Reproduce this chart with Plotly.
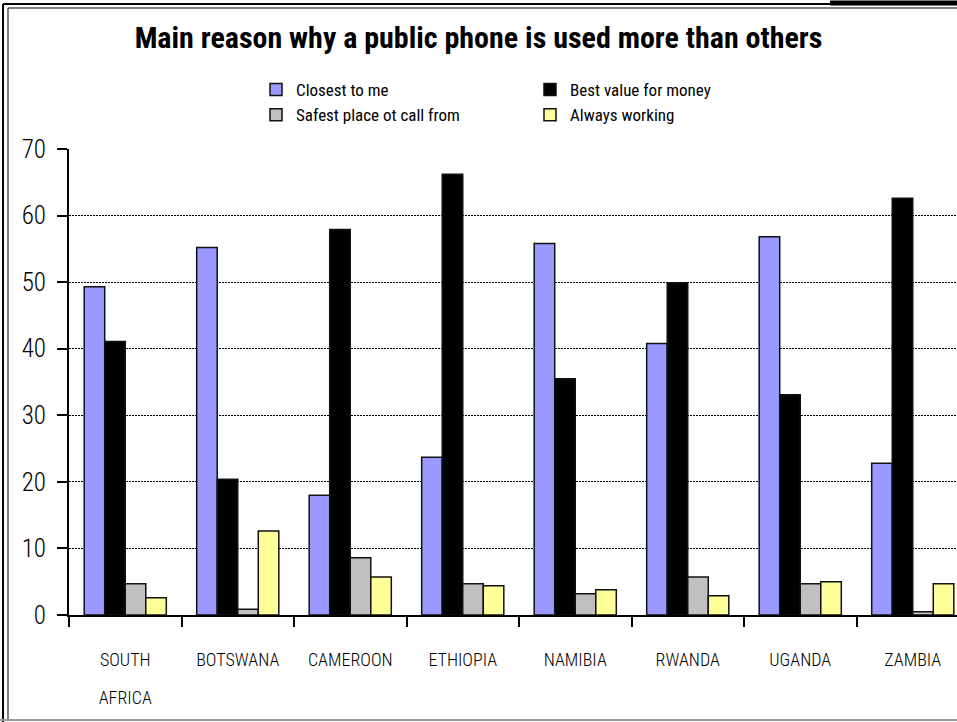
import plotly.graph_objects as go

categories = ["SOUTH AFRICA", "BOTSWANA", "CAMEROON", "ETHIOPIA", "NAMIBIA", "RWANDA", "UGANDA", "ZAMBIA"]

closest_to_me = [49.3, 55.2, 18.0, 23.7, 55.8, 40.8, 56.8, 22.8]
best_value = [41.1, 20.4, 57.9, 66.2, 35.5, 49.9, 33.1, 62.6]
safest_place = [4.7, 0.85, 8.6, 4.7, 3.2, 5.7, 4.7, 0.5]
always_working = [2.6, 12.6, 5.7, 4.4, 3.8, 2.9, 5.0, 4.7]

series_names = ["Closest to me", "Best value for money", "Safest place ot call from", "Always working"]
series_values = [closest_to_me, best_value, safest_place, always_working]
series_colors = ["#9999FF", "#000000", "#C0C0C0", "#FFFF99"]
series_legend = ["legend", "legend2", "legend", "legend2"]

# category labels wrap onto two lines (first word, then the rest)
first_line = [c.split(" ")[0] for c in categories]
second_line = [" ".join(c.split(" ")[1:]) for c in categories]

FONT = "Roboto Condensed, Liberation Sans Narrow, sans-serif"

W, H = 957, 722
L, R, T, B = 69, 0, 149, 107
PW = W - L - R
PH = H - T - B
XRANGE = [-0.5, -0.5 + PW / 112.5]

fig = go.Figure()
for name, vals, col, lg in zip(series_names, series_values, series_colors, series_legend):
    fig.add_trace(go.Bar(
        x=categories, y=vals, name=name, legend=lg,
        marker=dict(color=col, line=dict(color="#111111", width=1.5)),
    ))
# invisible carrier so the second label row (overlay axis) is drawn
fig.add_trace(go.Scatter(x=categories, y=closest_to_me, xaxis="x2", mode="markers",
                         marker=dict(opacity=0), showlegend=False, hoverinfo="skip"))

def px_x(p):
    return (p - L) / PW

def px_y(p):
    return (H - B - p) / PH

border = []
border.append(dict(type="line", xref="paper", yref="paper", x0=px_x(3), x1=px_x(3), y0=px_y(4), y1=px_y(722), line=dict(color="black", width=2)))
border.append(dict(type="line", xref="paper", yref="paper", x0=px_x(8), x1=px_x(8), y0=px_y(8), y1=px_y(719), line=dict(color="black", width=1)))
border.append(dict(type="line", xref="paper", yref="paper", x0=px_x(3), x1=px_x(957), y0=px_y(4), y1=px_y(4), line=dict(color="black", width=2)))
border.append(dict(type="line", xref="paper", yref="paper", x0=px_x(8), x1=px_x(957), y0=px_y(8), y1=px_y(8), line=dict(color="black", width=1)))
border.append(dict(type="line", xref="paper", yref="paper", x0=px_x(830), x1=px_x(957), y0=px_y(3), y1=px_y(3), line=dict(color="black", width=5)))
border.append(dict(type="line", xref="paper", yref="paper", x0=px_x(0), x1=px_x(957), y0=px_y(720), y1=px_y(720), line=dict(color="#999999", width=2)))

legend_font = dict(family=FONT, size=17)

fig.update_layout(
    width=W, height=H, autosize=False,
    margin=dict(l=L, r=R, t=T, b=B, pad=0),
    paper_bgcolor="white", plot_bgcolor="white",
    barmode="group", bargap=0.27, bargroupgap=0,
    font=dict(family=FONT, color="black"),
    title=dict(text="<b>Main reason why a public phone is used more than others</b>",
               x=0.5, xanchor="center", xref="container", y=1 - 37 / H, yanchor="middle", yref="container",
               font=dict(family=FONT, size=30, color="black")),
    legend=dict(x=px_x(256), y=px_y(72), xref="paper", yref="paper", xanchor="left", yanchor="top",
                font=legend_font, bgcolor="rgba(0,0,0,0)", traceorder="normal", tracegroupgap=0),
    legend2=dict(x=px_x(530), y=px_y(72), xref="paper", yref="paper", xanchor="left", yanchor="top",
                 font=legend_font, bgcolor="rgba(0,0,0,0)", traceorder="normal", tracegroupgap=0),
    shapes=border,
    xaxis=dict(
        range=XRANGE, showgrid=False, zeroline=False,
        showline=True, linecolor="black", linewidth=2,
        ticks="outside", tickson="boundaries", ticklen=10, tickwidth=1.5, tickcolor="black",
        tickmode="array", tickvals=categories, ticktext=first_line,
        tickfont=dict(family=FONT, size=18, color="black", weight=300), ticklabelstandoff=27,
    ),
    xaxis2=dict(
        overlaying="x", anchor="y", side="bottom", range=XRANGE,
        showgrid=False, zeroline=False, showline=False, ticks="",
        tickmode="array", tickvals=categories, ticktext=second_line,
        tickfont=dict(family=FONT, size=18, color="black", weight=300), ticklabelstandoff=70,
    ),
    yaxis=dict(
        range=[0, 70], dtick=10, tick0=0, showgrid=True, gridcolor="black", gridwidth=1, griddash="2px,1px",
        zeroline=False, showline=True, linecolor="black", linewidth=2,
        ticks="outside", ticklen=10, tickwidth=1.5, tickcolor="black",
        tickfont=dict(family=FONT, size=25, color="black", weight=300), ticklabelstandoff=6,
    ),
)

fig.write_html("out.html", config={"displayModeBar": False},
               post_script="document.body.style.margin='0';")
